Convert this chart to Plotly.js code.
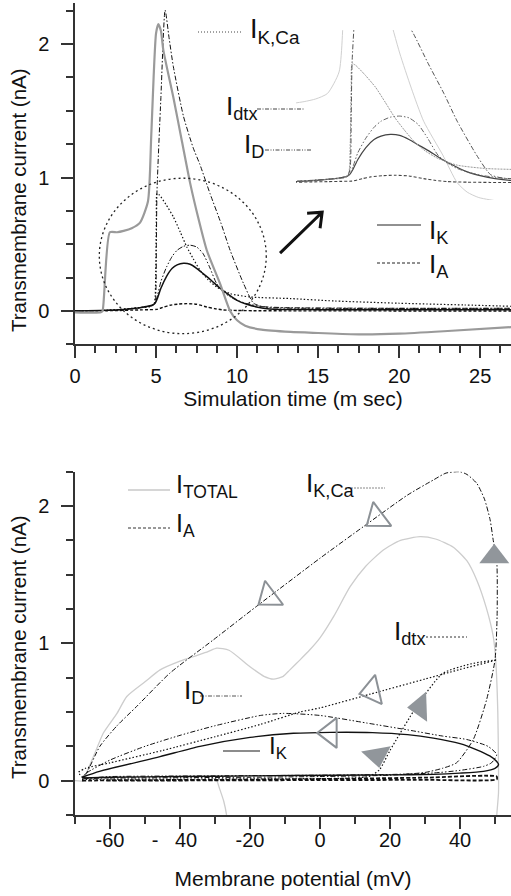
<!DOCTYPE html>
<html><head><meta charset="utf-8">
<script src="https://cdn.plot.ly/plotly-3.0.1.min.js"></script>
<style>html,body{margin:0;padding:0;background:#fff}#chart{width:511px;height:896px}</style>
</head><body><div id="chart"></div>
<script>
// ===== Top panel: transmembrane currents vs simulation time (ms) =====
const tTotal = [0, 1.6, 1.7, 2.15, 2.6, 3.0, 3.5, 4.0, 4.5, 4.7, 4.85, 5.0, 5.14, 5.3, 5.45, 6.07, 6.6, 7.1, 7.6, 8.13, 8.95, 9.57, 10.0, 10.5, 11.5, 13.3, 15, 17.5, 20, 23, 27];
const iTotal = [-0.01, -0.01, 0.0, 0.59, 0.59, 0.6, 0.62, 0.66, 0.82, 1.3, 1.75, 2.08, 2.15, 2.1, 1.955, 1.6, 1.27, 0.96, 0.7, 0.455, 0.205, 0.0, -0.07, -0.11, -0.14, -0.157, -0.165, -0.175, -0.17, -0.15, -0.12];

const tKCa = [0, 2, 4, 4.6, 4.85, 4.97, 5.02, 5.06, 5.3, 5.56, 5.8, 6.07, 6.69, 7.3, 7.7, 8.33, 9.0, 9.57, 10.4, 11.0, 11.5, 13, 20, 27];
const iKCa = [0.0, 0.005, 0.025, 0.035, 0.045, 0.1, 0.5, 0.9, 1.6, 2.255, 2.05, 1.83, 1.46, 1.22, 1.1, 0.88, 0.66, 0.455, 0.205, 0.06, 0.035, 0.025, 0.02, 0.02];

const tDtx = [0, 2, 4, 4.7, 4.9, 4.98, 5.02, 5.06, 5.2, 5.6, 6.07, 6.5, 6.9, 7.3, 7.72, 8.2, 8.74, 9.57, 10.8, 13.3, 16, 20, 24, 27];
const iDtx = [0.0, 0.005, 0.025, 0.035, 0.06, 0.3, 0.7, 0.88, 0.87, 0.8, 0.705, 0.59, 0.48, 0.39, 0.305, 0.235, 0.18, 0.13, 0.105, 0.093, 0.075, 0.058, 0.045, 0.035];

const tD = [0, 2, 3, 4, 4.5, 4.8, 4.95, 5.1, 5.3, 5.65, 6.0, 6.3, 6.7, 7.1, 7.5, 7.9, 8.3, 8.74, 9.2, 9.57, 10, 10.6, 11.2, 12, 15, 27];
const iD = [0, 0.005, 0.012, 0.025, 0.035, 0.045, 0.06, 0.12, 0.22, 0.33, 0.41, 0.455, 0.485, 0.493, 0.48, 0.43, 0.33, 0.205, 0.14, 0.105, 0.08, 0.055, 0.04, 0.025, 0.02, 0.02];

const tK = [0, 2, 3, 4, 4.5, 4.8, 4.95, 5.1, 5.3, 5.65, 6.0, 6.3, 6.7, 7.1, 7.5, 7.9, 8.4, 8.95, 9.5, 10, 10.6, 11.2, 12, 15, 27];
const iK = [0, 0.005, 0.012, 0.025, 0.035, 0.045, 0.06, 0.1, 0.17, 0.26, 0.32, 0.345, 0.357, 0.35, 0.32, 0.28, 0.23, 0.17, 0.12, 0.08, 0.05, 0.03, 0.015, 0.01, 0.01];

const tA = [0, 2, 4, 4.6, 5.04, 5.5, 5.86, 6.4, 6.9, 7.5, 8.13, 8.6, 9.15, 10, 11, 13, 27];
const iA = [0, 0.002, 0.008, 0.01, 0.012, 0.03, 0.043, 0.052, 0.055, 0.05, 0.03, 0.018, 0.008, 0.004, 0.002, 0.001, 0];

// ===== Bottom panel: currents vs membrane potential (mV) =====
const vTotal = [-70, -67.5, -66.7, -64, -61.9, -58, -55.2, -50, -45.7, -40, -36.2, -32, -29.5, -26, -20, -16, -13.3, -10.5, -8.6, -5.7, -2.9, 0, 4, 8.6, 13, 18.1, 23, 28.6, 33, 38.1, 42, 44.8, 47.5, 49.5, 50.2, 50.8, 51, 51, 50.5, 50.3, -26.3, -26.7, -27.5, -28.8, -29.5, -30.5];
const cTotal = [0, 0, 0.056, 0.22, 0.347, 0.49, 0.613, 0.72, 0.807, 0.87, 0.904, 0.94, 0.965, 0.95, 0.83, 0.76, 0.74, 0.76, 0.807, 0.88, 0.953, 1.04, 1.2, 1.413, 1.56, 1.68, 1.75, 1.777, 1.76, 1.70, 1.6, 1.46, 1.26, 1.05, 0.88, 0.5, 0.1, -0.09, -0.25, -0.35, -0.35, -0.25, -0.15, -0.05, 0.0, 0.02];

const vKCa = [-68, -60, -40, -20, 0, 20, 30, 35, 39, 43.8, 47.6, 50, 50.6, 50.5, 49.5, 48.6, 47, 44.8, 42, 40, 36, 32.4, 25, 12.4, 0, -18.1, -30.5, -42.9, -52.4, -58, -62.9, -66.7, -68];
const cKCa = [0.02, 0.02, 0.022, 0.025, 0.03, 0.04, 0.06, 0.09, 0.13, 0.3, 0.59, 0.88, 1.2, 1.6, 1.75, 1.9, 2.05, 2.165, 2.23, 2.25, 2.24, 2.19, 2.08, 1.85, 1.62, 1.27, 1.025, 0.783, 0.54, 0.4, 0.25, 0.056, 0.02];

const vDtx = [-68, -40, 0, 10, 14, 17, 20, 27.6, 35, 43, 50.5, 40, 30, 14.3, 0, -5.7, -17, -30, -45, -60, -67, -69, -68];
const cDtx = [0.01, 0.012, 0.015, 0.02, 0.03, 0.08, 0.22, 0.54, 0.78, 0.85, 0.88, 0.81, 0.74, 0.63, 0.53, 0.5, 0.41, 0.32, 0.22, 0.13, 0.09, 0.06, 0.03];

const vD = [-68, -66.7, -60, -50, -40, -30, -17, -10.5, 0, 13.3, 25, 35, 41.9, 48, 50.5, 49, 46.7, 40, 32.4, 20, 0, -30, -60, -68];
const cD = [0.02, 0.056, 0.15, 0.25, 0.33, 0.4, 0.475, 0.49, 0.475, 0.42, 0.37, 0.325, 0.3, 0.25, 0.19, 0.13, 0.104, 0.075, 0.056, 0.045, 0.04, 0.035, 0.03, 0.02];

const vK = [-68, -63, -45.7, -34.3, -20, -7.6, 3, 15, 25, 32.4, 40, 44.8, 48.5, 50.5, 51, 50, 46.7, 40, 32.4, 20, 5, -20, -40, -60, -68];
const cK = [0.025, 0.068, 0.175, 0.25, 0.315, 0.345, 0.352, 0.35, 0.335, 0.31, 0.27, 0.225, 0.18, 0.14, 0.115, 0.09, 0.068, 0.055, 0.046, 0.042, 0.04, 0.035, 0.03, 0.025, 0.02];

const vA = [-68, -60, -30, 0, 30, 50.5, 50.5, 30, 0, -30, -61];
const cA = [0, 0.003, 0.006, 0.012, 0.022, 0.03, 0.01, 0.006, 0.004, 0.002, 0];

// direction arrowheads on the phase-plane loops
const hollowV = [16.3, -14.6, 14.9, 2.9];
const hollowI = [1.914, 1.34, 0.654, 0.348];
const hollowAngle = [233, 233, 257, 270];
const filledV = [49.8, 28.6, 16.3];
const filledI = [1.63, 0.537, 0.185];
const filledAngle = [0, 268, 170];

// tick labels
const bottomTickVals = [-60, -40, -20, 0, 20, 40];
const bottomTickText = ['-60', '-\u00a0\u00a0\u00a040\u00a0\u00a0', '-20', '0', '20', '40'];
const topTickVals = [0, 5, 10, 15, 20, 25];
const yTickVals = [0, 1, 2];

// ===== styling helpers =====
const FONT = 'Liberation Sans, Arial, Helvetica, sans-serif';
const W = 511, H = 896, ML = 75, MB = 81, PW = W - ML, PH = H - MB;
const px = x => (x - ML) / PW;
const py = y => (PH - y) / PH;

const DASH = {
  kca: '5px,2px,1.5px,2px',
  dtx: '1.5px,2px',
  d: '5px,2px,1.5px,2px,1.5px,2px',
  a: '3px,2px'
};

function line(x, y, xa, ya, color, width, dash) {
  return {x, y, xaxis: xa, yaxis: ya, type: 'scatter', mode: 'lines', hoverinfo: 'skip',
    showlegend: false, line: {color, width, dash: dash || 'solid', shape: 'spline', smoothing: 0.6}};
}

const traces = [
  // top panel
  line(tA, iA, 'x', 'y', '#111', 1.4, DASH.a),
  line(tK, iK, 'x', 'y', '#111', 1.5),
  line(tD, iD, 'x', 'y', '#111', 1, DASH.d),
  line(tDtx, iDtx, 'x', 'y', '#111', 1.2, DASH.dtx),
  line(tKCa, iKCa, 'x', 'y', '#111', 1, DASH.kca),
  line(tTotal, iTotal, 'x', 'y', '#9a9a9a', 2.2),
  // inset (magnified view of the circled region)
  line(tTotal, iTotal, 'x3', 'y3', '#d0d0d0', 1),
  line(tA, iA, 'x3', 'y3', '#444', 1.1, DASH.a),
  line(tK, iK, 'x3', 'y3', '#444', 1.2),
  line(tD, iD, 'x3', 'y3', '#666', 1, DASH.d),
  line(tDtx, iDtx, 'x3', 'y3', '#9a9a9a', 1, '2px,1px'),
  line(tKCa, iKCa, 'x3', 'y3', '#555', 1, DASH.kca),
  // bottom panel
  line(vTotal, cTotal, 'x2', 'y2', '#cdcdcd', 1.3),
  line(vA, cA, 'x2', 'y2', '#111', 1.8, '4px,2px'),
  line(vK, cK, 'x2', 'y2', '#111', 1.4),
  line(vD, cD, 'x2', 'y2', '#111', 1, DASH.d),
  line(vDtx, cDtx, 'x2', 'y2', '#111', 1.2, DASH.dtx),
  line(vKCa, cKCa, 'x2', 'y2', '#111', 1, DASH.kca),
  {x: hollowV, y: hollowI, xaxis: 'x2', yaxis: 'y2', type: 'scatter', mode: 'markers', hoverinfo: 'skip', showlegend: false,
   marker: {symbol: 'triangle-up-open', size: 26, angle: hollowAngle, color: '#8c9196', line: {width: 2, color: '#8c9196'}}},
  {x: filledV, y: filledI, xaxis: 'x2', yaxis: 'y2', type: 'scatter', mode: 'markers', hoverinfo: 'skip', showlegend: false,
   marker: {symbol: 'triangle-up', size: 26, angle: filledAngle, color: '#91969b', line: {width: 0}}}
];

const axisCommon = {
  showline: true, linecolor: '#333', linewidth: 1.5, ticks: 'outside', ticklen: 12, tickwidth: 1.5,
  tickcolor: '#333', showgrid: false, zeroline: false, tickfont: {family: FONT, size: 20, color: '#111'}
};

const shapes = [
  // dotted circle marking the magnified region
  {type: 'circle', xref: 'x', yref: 'y', x0: 1.5, x1: 11.8, y0: -0.17, y1: 0.995,
   line: {color: '#222', width: 1.3, dash: '2px,3px'}},
  // arrow pointing to the inset
  {type: 'path', xref: 'x', yref: 'y', path: 'M12.65,0.433 L15.25,0.74 M14.32,0.733 L15.25,0.74 L15.12,0.62',
   line: {color: '#111', width: 3}},
];

// legend sample lines
function sample(x0, x1, y, dash, color, width) {
  return {type: 'line', xref: 'paper', yref: 'paper', x0: px(x0), x1: px(x1), y0: py(y), y1: py(y),
    line: {color: color || '#444', width: width || 1, dash: dash || 'solid'}};
}
shapes.push(
  sample(198, 243, 32, '1px,2px'),
  sample(257, 305, 109, '4px,1.5px,1px,1.5px'),
  sample(265, 311, 150, '4px,1.5px,1px,1.5px,1px,1.5px'),
  sample(377, 421, 225, 'solid', '#222', 1),
  sample(377, 421, 263, '3px,2px', '#222', 1),
  sample(128, 170, 490, 'solid', '#c8c8c8', 1.3),
  sample(128, 170, 528, '3px,2px', '#333', 1),
  sample(345, 385, 488, '2px,1px', '#888', 1),
  sample(426, 467, 637, '2px,2px', '#333', 1),
  sample(200, 242, 696, '4px,1.5px,1px,1.5px', '#555', 1),
  sample(223, 260, 751, 'solid', '#666', 1.3)
);

function label(text, xLeft, yMid, size) {
  return {xref: 'paper', yref: 'paper', x: px(xLeft), y: py(yMid), xanchor: 'left', yanchor: 'middle',
    text, showarrow: false, font: {family: FONT, size: size || 26, color: '#111'}};
}
const annotations = [
  label('I<sub>K,Ca</sub>', 248, 31, 27),
  label('I<sub>dtx</sub>', 224, 107),
  label('I<sub>D</sub>', 242, 146),
  label('I<sub>K</sub>', 427, 231),
  label('I<sub>A</sub>', 427, 265),
  label('I<sub>TOTAL</sub>', 174, 486, 25),
  label('I<sub>A</sub>', 174, 525, 25),
  label('I<sub>K,Ca</sub>', 304, 484),
  label('I<sub>dtx</sub>', 392, 632),
  label('I<sub>D</sub>', 182, 691),
  label('I<sub>K</sub>', 267, 747, 24),
  {xref: 'paper', yref: 'paper', x: px(18), y: py(200), xanchor: 'center', yanchor: 'middle', textangle: -90,
   text: 'Transmembrane current (nA)', showarrow: false, font: {family: FONT, size: 20.5, color: '#111'}},
  {xref: 'paper', yref: 'paper', x: px(18), y: py(647), xanchor: 'center', yanchor: 'middle', textangle: -90,
   text: 'Transmembrane current (nA)', showarrow: false, font: {family: FONT, size: 20.5, color: '#111'}}
];

const layout = {
  width: W, height: H, margin: {l: ML, r: 0, t: 0, b: MB},
  paper_bgcolor: '#fff', plot_bgcolor: 'rgba(0,0,0,0)', showlegend: false,
  font: {family: FONT, color: '#111'},
  xaxis: Object.assign({}, axisCommon, {domain: [0, 1], range: [0, 26.9], anchor: 'y',
    tickmode: 'array', tickvals: topTickVals, ticklabelstandoff: 1,
    minor: {tickmode: 'linear', tick0: 0, dtick: 1.25, ticks: 'outside', ticklen: 7, tickwidth: 1.5, tickcolor: '#333', showgrid: false},
    title: {text: 'Simulation time (m sec)', font: {family: FONT, size: 21, color: '#111'}, standoff: 5}}),
  yaxis: Object.assign({}, axisCommon, {domain: [0.5775, 0.996], range: [-0.25, 2.306], anchor: 'x',
    tickmode: 'array', tickvals: yTickVals, ticklabelstandoff: 8,
    minor: {tickmode: 'linear', tick0: 0, dtick: 0.25, ticks: 'outside', ticklen: 7, tickwidth: 1.5, tickcolor: '#333', showgrid: false}}),
  xaxis2: Object.assign({}, axisCommon, {domain: [0, 1], range: [-70, 54.57], anchor: 'y2',
    tickmode: 'array', tickvals: bottomTickVals, ticktext: bottomTickText, ticklabelstandoff: -6,
    minor: {tickmode: 'linear', tick0: -70, dtick: 10, ticks: 'outside', ticklen: 7, tickwidth: 1.5, tickcolor: '#333', showgrid: false},
    title: {text: 'Membrane potential (mV)', font: {family: FONT, size: 21, color: '#111'}, standoff: 22}}),
  yaxis2: Object.assign({}, axisCommon, {domain: [0, 0.4212], range: [-0.25, 2.25], anchor: 'x2',
    tickmode: 'array', tickvals: yTickVals, ticklabelstandoff: 8,
    minor: {tickmode: 'linear', tick0: 0, dtick: 0.25, ticks: 'outside', ticklen: 7, tickwidth: 1.5, tickcolor: '#333', showgrid: false}}),
  xaxis3: {domain: [px(296), 1], range: [2.65, 11.88], anchor: 'y3', visible: false, fixedrange: true},
  yaxis3: {domain: [py(200), py(30)], range: [-0.128, 1.13], anchor: 'x3', visible: false, fixedrange: true},
  shapes, annotations
};

Plotly.newPlot('chart', traces, layout, {displayModeBar: false});
</script>
</body></html>
